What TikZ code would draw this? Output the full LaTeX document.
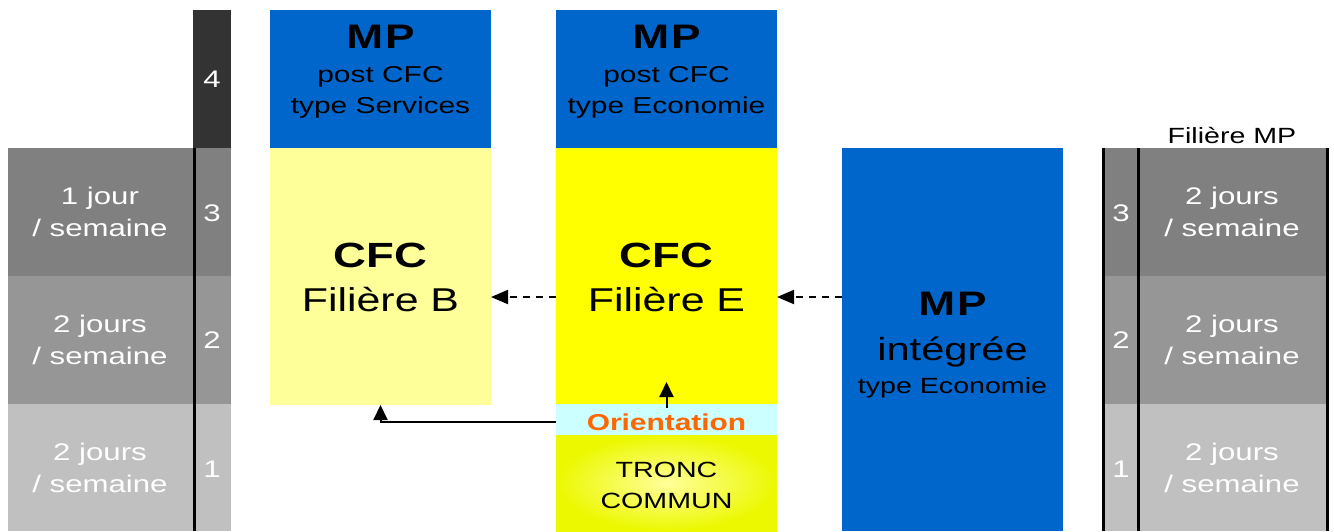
\documentclass[tikz,border=0pt]{standalone}
\usepackage{fontspec}
\setmainfont{Liberation Sans}[FakeStretch=1.3]
\usetikzlibrary{arrows.meta,calc}
\definecolor{mpblue}{HTML}{0066CC}
\definecolor{lyellow}{HTML}{FFFF99}
\definecolor{syellow}{HTML}{FFFF00}
\definecolor{lcyan}{HTML}{CCFFFF}
\definecolor{orng}{HTML}{FF6600}
\definecolor{gdark}{HTML}{333333}
\definecolor{gthree}{HTML}{808080}
\definecolor{gtwo}{HTML}{969696}
\definecolor{gone}{HTML}{C0C0C0}
\definecolor{tinner}{HTML}{FFFF9A}
\definecolor{touter}{HTML}{ECF800}
\newcommand\myfs[1]{\fontsize{#1}{#1}\selectfont}
\tikzset{
  blk/.style={rectangle, draw=none, inner sep=0pt, outer sep=0pt, anchor=north west},
  lbl/.style={inner sep=0pt, outer sep=0pt, anchor=base, text=black},
  wlbl/.style={lbl, text=white},
  conn/.style={line width=2pt, -{Triangle[length=15pt,width=14pt]}},
  dconn/.style={line width=1.8pt, dash pattern=on 7pt off 6pt, -{Triangle[length=17pt,width=14pt]}},
  divider/.style={line width=3pt}
}
\begin{document}
\begin{tikzpicture}[x=1pt,y=-1pt]
\useasboundingbox (0,0) rectangle (1334,531);
% left column
\node[blk, fill=gthree, minimum width=185pt, minimum height=128pt] (l3) at (8,148) {};
\node[blk, fill=gtwo, minimum width=185pt, minimum height=128pt] (l2) at (8,276) {};
\node[blk, fill=gone, minimum width=185pt, minimum height=127pt] (l1) at (8,404) {};
\node[blk, fill=gdark, minimum width=38pt, minimum height=138pt] (n4) at (193,10) {};
\node[blk, fill=gthree, minimum width=38pt, minimum height=128pt] (n3) at (193,148) {};
\node[blk, fill=gtwo, minimum width=38pt, minimum height=128pt] (n2) at (193,276) {};
\node[blk, fill=gone, minimum width=38pt, minimum height=127pt] (n1) at (193,404) {};
\draw[divider] (194.5,148) coordinate (dla) -- (194.5,531) coordinate (dlb);
% left texts
\node[wlbl] (n4t) at (212,87) {\myfs{24}4};
\node[wlbl] (n3t) at (212,221) {\myfs{24}3};
\node[wlbl] (n2t) at (212,348) {\myfs{24}2};
\node[wlbl] (n1t) at (212,477) {\myfs{24}1};
\node[wlbl] (l3a) at (100,204) {\myfs{24}1 jour};
\node[wlbl] (l3b) at (100,236) {\myfs{24}/ semaine};
\node[wlbl] (l2a) at (100,332) {\myfs{24}2 jours};
\node[wlbl] (l2b) at (100,364) {\myfs{24}/ semaine};
\node[wlbl] (l1a) at (100,460) {\myfs{24}2 jours};
\node[wlbl] (l1b) at (100,492) {\myfs{24}/ semaine};
% column B
\node[blk, fill=mpblue, minimum width=221pt, minimum height=138pt] (mps) at (270,10) {};
\node[blk, fill=lyellow, minimum width=221pt, minimum height=257pt] (cfcb) at (270,148) {};
\node[lbl] (mpsa) at (380.5,48) {\myfs{34}\bfseries M\kern2pt P};
\node[lbl] (mpsb) at (380.5,82) {\myfs{23}post CFC};
\node[lbl] (mpsc) at (380.5,113) {\myfs{23}type Services};
\node[lbl] (cfcba) at (380.5,267) {\myfs{35}\bfseries CFC};
\node[lbl] (cfcbb) at (380.5,311) {\myfs{33}Filière B};
% column E
\node[blk, fill=mpblue, minimum width=221pt, minimum height=138pt] (mpe) at (556,10) {};
\node[blk, fill=syellow, minimum width=221pt, minimum height=256pt] (cfce) at (556,148) {};
\node[blk, fill=lcyan, minimum width=221pt, minimum height=31pt] (orient) at (556,404) {};
\node[blk, inner color=tinner, outer color=touter, minimum width=221pt, minimum height=96pt] (tronc) at (556,435) {};
\node[lbl] (mpea) at (666.5,48) {\myfs{34}\bfseries M\kern2pt P};
\node[lbl] (mpeb) at (666.5,82) {\myfs{23}post CFC};
\node[lbl] (mpec) at (666.5,113) {\myfs{23}type Economie};
\node[lbl] (cfcea) at (666.5,267) {\myfs{35}\bfseries CFC};
\node[lbl] (cfceb) at (666.5,311) {\myfs{33}Filière E};
\node[lbl, text=orng] (orientt) at (666.5,430) {\myfs{23}\bfseries Orientation};
\node[lbl] (tronca) at (666.5,477) {\myfs{22}TRONC};
\node[lbl] (troncb) at (666.5,508) {\myfs{22}COMMUN};
% MP integree
\node[blk, fill=mpblue, minimum width=221pt, minimum height=383pt] (mpi) at (842,148) {};
\node[lbl] (mpia) at (952.5,315) {\myfs{34}\bfseries M\kern2pt P};
\node[lbl] (mpib) at (952.5,360) {\myfs{32}intégrée};
\node[lbl] (mpic) at (952.5,393) {\myfs{22}type Economie};
% right column
\node[blk, fill=gthree, minimum width=224pt, minimum height=128pt] (r3) at (1103,148) {};
\node[blk, fill=gtwo, minimum width=224pt, minimum height=128pt] (r2) at (1103,276) {};
\node[blk, fill=gone, minimum width=224pt, minimum height=127pt] (r1) at (1103,404) {};
\draw[divider] (r3.north west) -- (r1.south west);
\draw[divider] ($(r3.north west)+(35,0)$) -- ($(r1.south west)+(35,0)$);
\draw[divider] (r3.north east) -- (r1.south east);
\node[lbl] (fmp) at (1232,143) {\myfs{22}Filière MP};
\node[wlbl] (r3n) at (1121,221) {\myfs{24}3};
\node[wlbl] (r2n) at (1121,348) {\myfs{24}2};
\node[wlbl] (r1n) at (1121,477) {\myfs{24}1};
\node[wlbl] (r3a) at (1232,204) {\myfs{24}2 jours};
\node[wlbl] (r3b) at (1232,236) {\myfs{24}/ semaine};
\node[wlbl] (r2a) at (1232,332) {\myfs{24}2 jours};
\node[wlbl] (r2b) at (1232,364) {\myfs{24}/ semaine};
\node[wlbl] (r1a) at (1232,460) {\myfs{24}2 jours};
\node[wlbl] (r1b) at (1232,492) {\myfs{24}/ semaine};
% connectors
\coordinate (ay) at (0,297);
\coordinate (oy) at (0,422);
\coordinate (upend) at (666.5,382);
\draw[dconn] (mpi.west |- ay) -- (cfce.east |- ay);
\draw[dconn] (cfce.west |- ay) -- (cfcb.east |- ay);
\draw[conn] (orient.west |- oy) -| (cfcb.south);
\draw[conn] ($(orient.north)+(0,4)$) -- (upend);
\end{tikzpicture}
\end{document}
